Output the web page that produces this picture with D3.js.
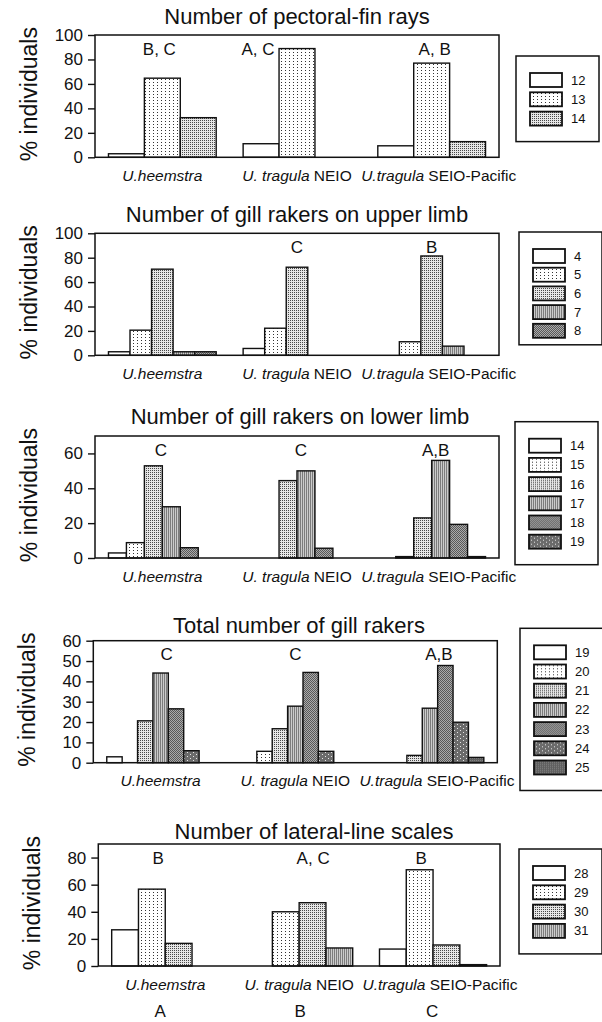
<!DOCTYPE html>
<html><head><meta charset="utf-8">
<script src="https://cdn.jsdelivr.net/npm/d3@7"></script>
<style>
body{margin:0;background:#fff;}
svg text{font-family:"Liberation Sans",Arial,Helvetica,sans-serif;fill:#111;}
</style></head><body>
<svg id="fig" width="602" height="1022"></svg>
<script>
// Populations on the x axis: italic species name + plain region tag
const groupKeys = ["heemstra", "NEIO", "SEIO"];
const groupItalic = ["U.heemstra", "U. tragula", "U.tragula"];
const groupPlain = ["", " NEIO", " SEIO-Pacific"];
const groupCodes = ["A", "B", "C"];

// Number of pectoral-fin rays (% of individuals)
const finSeries = ["12", "13", "14"];
const finHeemstra = [2.9, 64.7, 32.4];
const finNEIO = [11.1, 88.9, 0];
const finSEIO = [9.4, 77.0, 12.8];
const finLetters = ["B, C", "A, C", "A, B"];
const finTicks = [0, 20, 40, 60, 80, 100];

// Gill rakers on upper limb
const upperSeries = ["4", "5", "6", "7", "8"];
const upperHeemstra = [2.9, 20.6, 70.6, 2.9, 2.9];
const upperNEIO = [5.6, 22.2, 72.2, 0, 0];
const upperSEIO = [0, 11.1, 81.4, 7.5, 0];
const upperLetters = ["", "C", "B"];
const upperTicks = [0, 20, 40, 60, 80, 100];

// Gill rakers on lower limb
const lowerSeries = ["14", "15", "16", "17", "18", "19"];
const lowerHeemstra = [2.9, 8.8, 52.9, 29.4, 5.9, 0];
const lowerNEIO = [0, 0, 44.4, 50.0, 5.6, 0];
const lowerSEIO = [0, 0.8, 23.0, 56.0, 19.3, 0.8];
const lowerLetters = ["C", "C", "A,B"];
const lowerTicks = [0, 20, 40, 60];

// Total number of gill rakers
const totalSeries = ["19", "20", "21", "22", "23", "24", "25"];
const totalHeemstra = [2.9, 0, 20.6, 44.1, 26.5, 5.9, 0];
const totalNEIO = [0, 5.6, 16.7, 27.8, 44.4, 5.6, 0];
const totalSEIO = [0, 0, 3.6, 26.8, 47.8, 19.9, 2.6];
const totalLetters = ["C", "C", "A,B"];
const totalTicks = [0, 10, 20, 30, 40, 50, 60];

// Number of lateral-line scales
const lateralSeries = ["28", "29", "30", "31"];
const lateralHeemstra = [26.7, 56.7, 16.7, 0];
const lateralNEIO = [0, 40.0, 46.7, 13.3];
const lateralSEIO = [12.5, 71.0, 15.5, 1.0];
const lateralLetters = ["B", "A, C", "B"];
const lateralTicks = [0, 20, 40, 60, 80];

const panels = [
  {title: "Number of pectoral-fin rays", series: finSeries, values: [finHeemstra, finNEIO, finSEIO], letters: finLetters, ticks: finTicks, max: 100},
  {title: "Number of gill rakers on upper limb", series: upperSeries, values: [upperHeemstra, upperNEIO, upperSEIO], letters: upperLetters, ticks: upperTicks, max: 100},
  {title: "Number of gill rakers on lower limb", series: lowerSeries, values: [lowerHeemstra, lowerNEIO, lowerSEIO], letters: lowerLetters, ticks: lowerTicks, max: 70},
  {title: "Total number of gill rakers", series: totalSeries, values: [totalHeemstra, totalNEIO, totalSEIO], letters: totalLetters, ticks: totalTicks, max: 60},
  {title: "Number of lateral-line scales", series: lateralSeries, values: [lateralHeemstra, lateralNEIO, lateralSEIO], letters: lateralLetters, ticks: lateralTicks, max: 90}
];

// Page layout of each panel
const layout = [
  {left: 95, right: 499, top: 35, bottom: 157.3, titleX: 297, titleY: 23.5, legX: 516, legY: 56, pitch: 19.3, padB: 16, nudge: [-3, -39, 3]},
  {left: 95, right: 499, top: 233.3, bottom: 355.3, titleX: 297, titleY: 222, legX: 519, legY: 232, pitch: 18.7, padB: 7, nudge: [0, 0, 0]},
  {left: 95, right: 499, top: 436, bottom: 558, titleX: 300, titleY: 424, legX: 515, legY: 421.7, pitch: 19.2, padB: 16, nudge: [-1.5, 4, 4]},
  {left: 93.3, right: 497.3, top: 640.7, bottom: 762.7, titleX: 299, titleY: 633.3, legX: 520, legY: 628.3, pitch: 19.2, padB: 16, nudge: [6, 0, 9]},
  {left: 98.3, right: 500, top: 844, bottom: 966, titleX: 314, titleY: 838.5, legX: 519, legY: 849, pitch: 19.3, padB: 16, nudge: [-7, 14, -12]}
];
const xLabelNudge = [0, 0, 7];
const codeNudge = [-5, 1, -1];

const svg = d3.select("#fig");
const defs = svg.append("defs");

// Hatch fills, from white through dotted greys to dark grey
function pattern(id, w, h, bg, marks) {
  const p = defs.append("pattern").attr("id", id).attr("patternUnits", "userSpaceOnUse")
    .attr("width", w).attr("height", h);
  p.append("rect").attr("width", w).attr("height", h).attr("fill", bg);
  marks.forEach(m => p.append("rect").attr("x", m[0]).attr("y", m[1])
    .attr("width", m[2]).attr("height", m[3]).attr("fill", m[4]));
}
pattern("f0", 4, 4, "#ffffff", []);
pattern("f1", 4, 3, "#ffffff", [[1, 1, 1, 1, "#333"]]);
pattern("f2", 2, 2, "#e6e6e6", [[0, 0, 1, 1, "#484848"]]);
pattern("f3", 2, 2, "#cbcbcb", [[0, 0, 1, 2, "#7c7c7c"]]);
pattern("f4", 2, 2, "#ababab", [[0, 0, 1, 1, "#595959"], [1, 1, 1, 1, "#595959"]]);
pattern("f5", 6, 4, "#6b6b6b", [[1, 0, 1, 1, "#e6e6e6"], [4, 2, 1, 1, "#e6e6e6"]]);
pattern("f6", 2, 2, "#5f5f5f", [[0, 0, 1, 1, "#828282"]]);
const fills = ["url(#f0)", "url(#f1)", "url(#f2)", "url(#f3)", "url(#f4)", "url(#f5)", "url(#f6)"];

panels.forEach((pan, pi) => {
  const L = layout[pi];
  const g = svg.append("g");

  const x0 = d3.scaleBand().domain(groupKeys).range([L.left, L.right])
    .paddingInner(0.2).paddingOuter(0.1);
  const x1 = d3.scaleBand().domain(pan.series).range([0, x0.bandwidth()]);
  const y = d3.scaleLinear().domain([0, pan.max]).range([L.bottom, L.top]);

  // title
  g.append("text").attr("x", L.titleX).attr("y", L.titleY).attr("text-anchor", "middle")
    .style("font-size", "22px").text(pan.title);

  // y axis label
  g.append("text").attr("transform", `translate(${L.left - 58},${(L.top + L.bottom) / 2 - 2}) rotate(-90)`)
    .attr("text-anchor", "middle").style("font-size", "23px").text("% individuals");

  // y axis
  const ax = g.append("g").attr("transform", `translate(${L.left},0)`)
    .call(d3.axisLeft(y).tickValues(pan.ticks).tickSize(7).tickPadding(5).tickFormat(d3.format("d")));
  ax.select(".domain").remove();
  ax.selectAll(".tick line").attr("stroke", "#111").attr("stroke-width", 1.4);
  ax.selectAll(".tick text").style("font-size", "17px").attr("fill", "#111")
    .style("font-family", "'Liberation Sans',Arial,sans-serif");

  // bars
  groupKeys.forEach((gk, gi) => {
    const vals = pan.values[gi];
    g.append("g").selectAll("rect")
      .data(pan.series.map((s, si) => ({s, si, v: vals[si]})).filter(d => d.v > 0))
      .join("rect")
      .attr("x", d => x0(gk) + x1(d.s))
      .attr("y", d => y(d.v))
      .attr("width", x1.bandwidth())
      .attr("height", d => y(0) - y(d.v))
      .attr("fill", d => fills[d.si])
      .attr("stroke", "#111").attr("stroke-width", 1.4);

    // significance letters
    if (pan.letters[gi]) {
      g.append("text").attr("x", x0(gk) + x0.bandwidth() / 2 + L.nudge[gi])
        .attr("y", L.top + 19.5).attr("text-anchor", "middle")
        .style("font-size", "17px").text(pan.letters[gi]);
    }

    // group label
    const t = g.append("text").attr("x", x0(gk) + x0.bandwidth() / 2 + xLabelNudge[gi])
      .attr("y", L.bottom + 23.5).attr("text-anchor", "middle").style("font-size", "15.5px");
    t.append("tspan").style("font-style", "italic").text(groupItalic[gi]);
    if (groupPlain[gi]) t.append("tspan").text(groupPlain[gi]);
  });

  // frame
  g.append("rect").attr("x", L.left).attr("y", L.top)
    .attr("width", L.right - L.left).attr("height", L.bottom - L.top)
    .attr("fill", "none").attr("stroke", "#111").attr("stroke-width", 1.5);

  // legend
  const n = pan.series.length;
  const boxH = 17 + (n - 1) * L.pitch + 14 + L.padB;
  const lg = g.append("g").attr("transform", `translate(${L.legX},${L.legY})`);
  lg.append("rect").attr("width", 83).attr("height", boxH)
    .attr("fill", "#fff").attr("stroke", "#111").attr("stroke-width", 1.5);
  pan.series.forEach((s, si) => {
    const yy = 17 + si * L.pitch;
    lg.append("rect").attr("x", 14).attr("y", yy).attr("width", 32).attr("height", 14)
      .attr("fill", fills[si]).attr("stroke", "#111").attr("stroke-width", 1.8);
    lg.append("text").attr("x", 55).attr("y", yy + 7).attr("dy", "0.35em")
      .style("font-size", "13px").text(s);
  });

  // population codes under the last panel
  if (pi === panels.length - 1) {
    groupKeys.forEach((gk, gi) => {
      g.append("text").attr("x", x0(gk) + x0.bandwidth() / 2 + codeNudge[gi])
        .attr("y", 1017).attr("text-anchor", "middle").style("font-size", "17px")
        .text(groupCodes[gi]);
    });
  }
});
</script>
</body></html>
